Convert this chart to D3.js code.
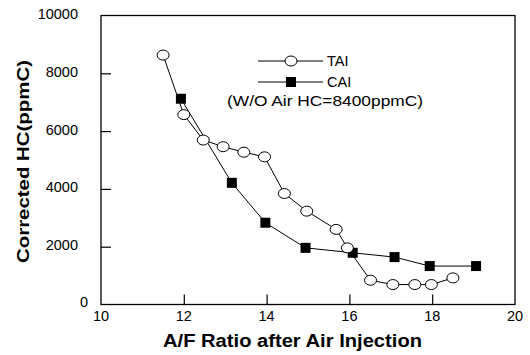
<!DOCTYPE html>
<html><head><meta charset="utf-8">
<script src="https://cdn.jsdelivr.net/npm/d3@7"></script>
<style>body{margin:0;background:#fff}svg{display:block}text{font-family:"Liberation Sans",Arial,sans-serif}</style>
</head><body><svg id="c" width="530" height="355"></svg>
<script>
const taiAF = [11.5, 12.0, 12.47, 12.95, 13.45, 13.95, 14.43, 14.97, 15.68, 15.95, 16.51, 17.05, 17.58, 17.98, 18.5];
const taiHC = [8630, 6570, 5690, 5460, 5270, 5110, 3840, 3230, 2600, 1960, 840, 690, 690, 690, 920];
const caiAF = [11.93, 13.16, 13.97, 14.94, 16.08, 17.09, 17.94, 19.06];
const caiHC = [7120, 4210, 2830, 1960, 1790, 1640, 1330, 1330];
const xTicks = [10, 12, 14, 16, 18, 20];
const yTicks = [0, 2000, 4000, 6000, 8000, 10000];
const seriesNames = ["TAI", "CAI"];
const note = "(W/O Air HC=8400ppmC)";
const xTitle = "A/F Ratio after Air Injection";
const yTitle = "Corrected HC(ppmC)";

const svg = d3.select("#c");
const x = d3.scaleLinear().domain([10, 20]).range([101, 515]);
const y = d3.scaleLinear().domain([0, 10000]).range([304.5, 15.5]);
const g = svg.append("g");

// frame
g.append("rect").attr("x", x(10)).attr("y", y(10000)).attr("width", x(20) - x(10)).attr("height", y(0) - y(10000))
  .attr("fill", "none").attr("stroke", "#000").attr("stroke-width", 1.3);

// inner ticks
const xa = d3.axisBottom(x).tickValues(xTicks.slice(1, -1)).tickSizeInner(-10).tickSizeOuter(0).tickFormat("");
g.append("g").attr("transform", `translate(0,${y(0)})`).call(xa).call(s => { s.select(".domain").remove(); s.selectAll("line").attr("stroke-width", 1.2); });
const ya = d3.axisLeft(y).tickValues(yTicks.slice(1, -1)).tickSizeInner(-10).tickSizeOuter(0).tickFormat("");
g.append("g").attr("transform", `translate(${x(10)},0)`).call(ya).call(s => { s.select(".domain").remove(); s.selectAll("line").attr("stroke-width", 1.2); });

// tick labels
g.selectAll(".xl").data(xTicks).enter().append("text").attr("x", d => x(d)).attr("y", y(0) + 16)
  .attr("text-anchor", "middle").attr("font-size", 14.5).text(d => d);
g.selectAll(".yl").data(yTicks).enter().append("text").attr("x", d => d === 0 ? x(10) - 13 : x(10) - 23).attr("y", d => y(d) + (d === 0 ? 2.5 : 3.5))
  .attr("text-anchor", "end").attr("font-size", 14.5).text(d => d);

// axis titles
g.append("text").attr("x", 163).attr("y", 346.5).attr("textLength", 259).attr("lengthAdjust", "spacingAndGlyphs")
  .attr("font-size", 18).attr("font-weight", "bold").text(xTitle);
g.append("text").attr("transform", `translate(29,263) rotate(-90)`).attr("textLength", 203).attr("lengthAdjust", "spacingAndGlyphs")
  .attr("font-size", 17).attr("font-weight", "bold").text(yTitle);

const line = d3.line().x(d => x(d[0])).y(d => y(d[1]));
const tai = taiAF.map((v, i) => [v, taiHC[i]]);
const cai = caiAF.map((v, i) => [v, caiHC[i]]);

g.append("path").attr("d", line(cai)).attr("fill", "none").attr("stroke", "#000").attr("stroke-width", 1);
g.append("path").attr("d", line(tai)).attr("fill", "none").attr("stroke", "#000").attr("stroke-width", 1);
g.selectAll(".sq").data(cai).enter().append("rect").attr("x", d => x(d[0]) - 5).attr("y", d => y(d[1]) - 5)
  .attr("width", 10).attr("height", 10).attr("fill", "#000");
g.selectAll(".ci").data(tai).enter().append("ellipse").attr("cx", d => x(d[0])).attr("cy", d => y(d[1]))
  .attr("rx", 6).attr("ry", 5).attr("fill", "#fff").attr("stroke", "#000").attr("stroke-width", 1);

// legend
const lx1 = 258, lx2 = 323, lm = 291;
g.append("line").attr("x1", lx1).attr("x2", lx2).attr("y1", 61).attr("y2", 61).attr("stroke", "#000");
g.append("ellipse").attr("cx", lm).attr("cy", 61).attr("rx", 6).attr("ry", 5).attr("fill", "#fff").attr("stroke", "#000");
g.append("text").attr("x", 327).attr("y", 66).attr("font-size", 14.5).text(seriesNames[0]);
g.append("line").attr("x1", lx1).attr("x2", lx2).attr("y1", 82).attr("y2", 82).attr("stroke", "#000");
g.append("rect").attr("x", lm - 5).attr("y", 77).attr("width", 10).attr("height", 10).attr("fill", "#000");
g.append("text").attr("x", 327).attr("y", 87).attr("font-size", 14.5).text(seriesNames[1]);
g.append("text").attr("x", 227).attr("y", 105.5).attr("font-size", 14.5).attr("textLength", 196).attr("lengthAdjust", "spacingAndGlyphs").text(note);
</script></body></html>
